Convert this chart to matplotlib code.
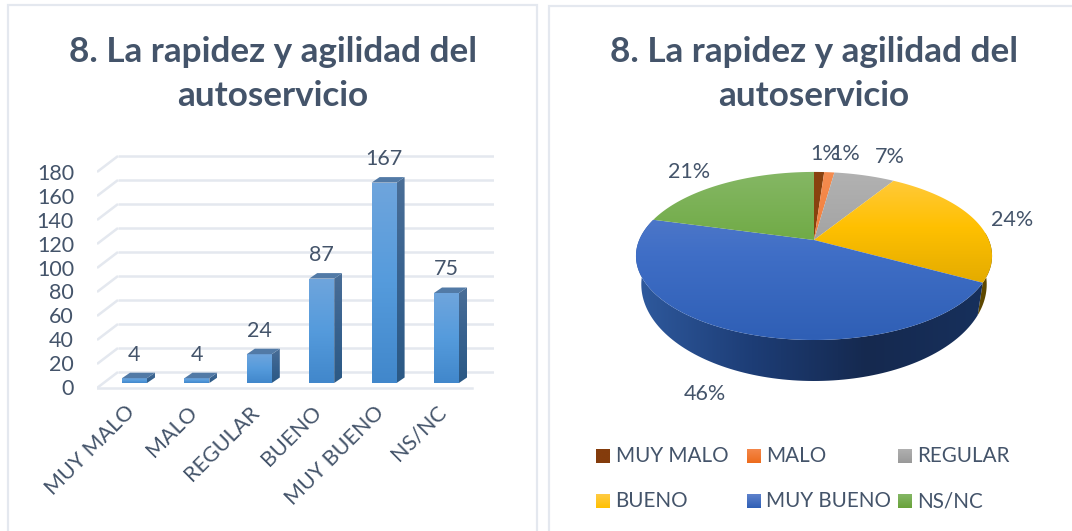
import numpy as np
import matplotlib
matplotlib.use("Agg")
import matplotlib.pyplot as plt
from matplotlib.patches import Polygon
from matplotlib.colors import LinearSegmentedColormap

categories = ["MUY MALO", "MALO", "REGULAR", "BUENO", "MUY BUENO", "NS/NC"]
values = [4, 4, 24, 87, 167, 75]
y_ticks = [0, 20, 40, 60, 80, 100, 120, 140, 160, 180]
title = "8. La rapidez y agilidad del\nautoservicio"

INK = "#44546A"
GRID = "#E4E8EF"
plt.rcParams["font.family"] = ["Lato", "DejaVu Sans"]

W, H = 1072, 531
fig = plt.figure(figsize=(W / 100, H / 100), dpi=100, facecolor="white")


def px_axes(l, t, r, b, z=1):
    a = fig.add_axes([l / W, 1 - b / H, (r - l) / W, (b - t) / H], zorder=z)
    a.patch.set_alpha(0)
    a.axis("off")
    return a


def grad_poly(ax, pts, stops, extent=None, horizontal=False, zorder=2):
    """Fill a polygon with a gradient; extent=(l, r, bottom, top), first stop at top/left."""
    pts = np.asarray(pts)
    poly = Polygon(pts, closed=True, transform=ax.transData, facecolor="none", edgecolor="none")
    ax.add_patch(poly)
    x0, x1 = pts[:, 0].min(), pts[:, 0].max()
    y0, y1 = pts[:, 1].min(), pts[:, 1].max()
    cmap = LinearSegmentedColormap.from_list("g", stops)
    g = np.linspace(0, 1, 256)
    g = g[None, :] if horizontal else g[:, None]
    ext = extent if extent is not None else (x0, x1, y1, y0)
    lims = ax.get_xlim(), ax.get_ylim()
    im = ax.imshow(g, cmap=cmap, extent=ext, origin="upper", aspect="auto", zorder=zorder,
                   interpolation="bilinear")
    im.set_clip_path(poly)
    ax.set_xlim(lims[0]); ax.set_ylim(lims[1])
    return im


# ---- page: panel frames ----
page = px_axes(0, 0, W, H, 0)
page.set_xlim(0, W); page.set_ylim(H, 0)
for xs, ys in [([8, 8, 537, 537], [533, 4.5, 4.5, 533]), ([549, 549, 1074], [533, 6, 6])]:
    page.plot(xs, ys, color=GRID, lw=1.6, solid_joinstyle="miter", solid_capstyle="butt")
for cx in (273, 814):
    page.text(cx, 74, title, ha="center", va="center", fontsize=25.3, fontweight="bold",
              color=INK, linespacing=1.45)

# ---- 3-D column chart ----
PX_UNIT = 1.2      # pixels per value unit
PITCH = 62.4       # pixels per category
LEFT, RIGHT, TOP, BOT = 97, 494, 140, 395
BASE_PX = 383
C0 = 134.5
ax = px_axes(LEFT, TOP, RIGHT, BOT, 1)
ax.set_xlim((LEFT - C0) / PITCH, (RIGHT - C0) / PITCH)
ax.set_ylim((BASE_PX - BOT) / PX_UNIT, (BASE_PX - TOP) / PX_UNIT)
back = (BASE_PX - 372) / PX_UNIT
floor = (BASE_PX - 388) / PX_UNIT
xl, xb = (97 - C0) / PITCH, (118 - C0) / PITCH
xr_front, xr_back = (472 - C0) / PITCH, (494 - C0) / PITCH
for v in y_ticks:
    ax.plot([xb, xr_back], [v + back] * 2, color=GRID, lw=1.8, solid_capstyle="butt", zorder=1)
    ax.plot([xl, xb], [v + floor, v + back], color=GRID, lw=1.8, solid_capstyle="butt", zorder=1)
ax.plot([xl, xr_front], [floor, floor], color=GRID, lw=1.8, zorder=1)

half = 12.5 / PITCH
dx, dy = 8 / PITCH, 5.5 / PX_UNIT
for i, v in enumerate(values):
    a, b = i - half, i + half
    front = [(a, 0), (b, 0), (b, v), (a, v)]
    grad_poly(ax, front, ["#6FA5DD", "#559BDC", "#4187CB"], extent=(a, b, 0, max(v, 1)), zorder=3)
    side = [(b, 0), (b + dx, dy), (b + dx, v + dy), (b, v)]
    grad_poly(ax, side, ["#4A6E97", "#38628F", "#2B5985"], extent=(b, b + dx, 0, max(v + dy, 1)), zorder=3)
    ax.add_patch(Polygon([(a, v), (b, v), (b + dx, v + dy), (a + dx, v + dy)], facecolor="#527AA6",
                         edgecolor="none", zorder=4))
    ax.text(i, v + dy + 6.7, str(v), ha="center", va="bottom", fontsize=15.5, color=INK, zorder=5)

# tick labels of the column chart
lab = px_axes(0, 0, W, H, 2)
lab.set_xlim(0, W); lab.set_ylim(H, 0)
for k, v in enumerate(y_ticks):
    lab.text(74, 389 - k * 23.9, str(v), ha="right", va="center", fontsize=15.5, color=INK)
for i, c in enumerate(categories):
    lab.text(C0 + i * PITCH - 3, 409, c, rotation=45, rotation_mode="anchor", ha="right", va="center",
             fontsize=15.5, color=INK)

# ---- 3-D pie ----
pie = px_axes(0, 0, W, H, 3)
pie.set_xlim(0, W); pie.set_ylim(H, 0)
CX, CY, K, A, B = 814, 240, 0.19, 81, 174.8
DROP, SX, SY = 26, 0.97, 1.15
total = sum(values)
fracs = np.cumsum([0] + values) / total * 360


def rim(t_deg):
    t = np.radians(t_deg)
    u, v = np.sin(t), np.cos(t)
    s = 1 + K * v
    return B * u / s, -A * v / s


def arc(t0, t1, lower=False):
    ts = np.linspace(t0, t1, 120)
    x, y = rim(ts)
    if lower:
        return np.c_[CX + SX * x, CY + DROP + SY * y]
    return np.c_[CX + x, CY + y]


top_stops = [
    ["#8A4310", "#843C0C"],
    ["#F58C50", "#ED6C1C"],
    ["#B2B2B2", "#A0A0A0", "#8F8F8F"],
    ["#FFCB45", "#FFC000", "#E3AB00", "#D09A00"],
    ["#5E82CC", "#3F6EC6", "#2F5FB5"],
    ["#85B765", "#6CA83F", "#68A23A"],
]
top_y = CY - A / (1 + K)
bot_y = CY + A / (1 - K)

# side walls
yellow_side = np.r_[arc(85, fracs[4]), arc(85, fracs[4], True)[::-1]]
pie.add_patch(Polygon(yellow_side, facecolor="#5E4800", edgecolor="none", zorder=1))
blue_side = np.r_[arc(fracs[4], fracs[5]), arc(fracs[4], fracs[5], True)[::-1]]
grad_poly(pie, blue_side, ["#2F5A9E", "#1D3D76", "#15294F", "#17305C"], horizontal=True, zorder=2)

# top faces
for i in range(len(values)):
    pts = np.r_[[[CX, CY]], arc(fracs[i], fracs[i + 1])]
    grad_poly(pie, pts, top_stops[i], extent=(CX - 190, CX + 190, bot_y, top_y), zorder=3)

pct = [f"{round(v / total * 100)}%" for v in values]
pct_xy = [(825, 154), (845, 154), (890, 157), (1012, 220), (705, 394), (689, 172)]
for s, (x, y) in zip(pct, pct_xy):
    pie.text(x, y, s, ha="center", va="center", fontsize=15.5, color=INK, zorder=5)

# legend
swatch = [["#843C0C", "#843C0C"], ["#F4874A", "#ED6C1C"], ["#B0B0B0", "#999999"],
          ["#FFCB45", "#FFC000"], ["#5E82CC", "#2F5FB5"], ["#85B765", "#68A23A"]]
leg_x = [596, 747, 898]
leg_y = [456, 501]
for i, c in enumerate(categories):
    x, y = leg_x[i % 3], leg_y[i // 3]
    grad_poly(pie, [(x, y - 7), (x + 14, y - 7), (x + 14, y + 7), (x, y + 7)], swatch[i],
              extent=(x, x + 14, y + 7, y - 7), zorder=3)
    pie.text(x + 19.5, y, c, ha="left", va="center", fontsize=14.9, color=INK)

fig.savefig("out.png", dpi=100)
